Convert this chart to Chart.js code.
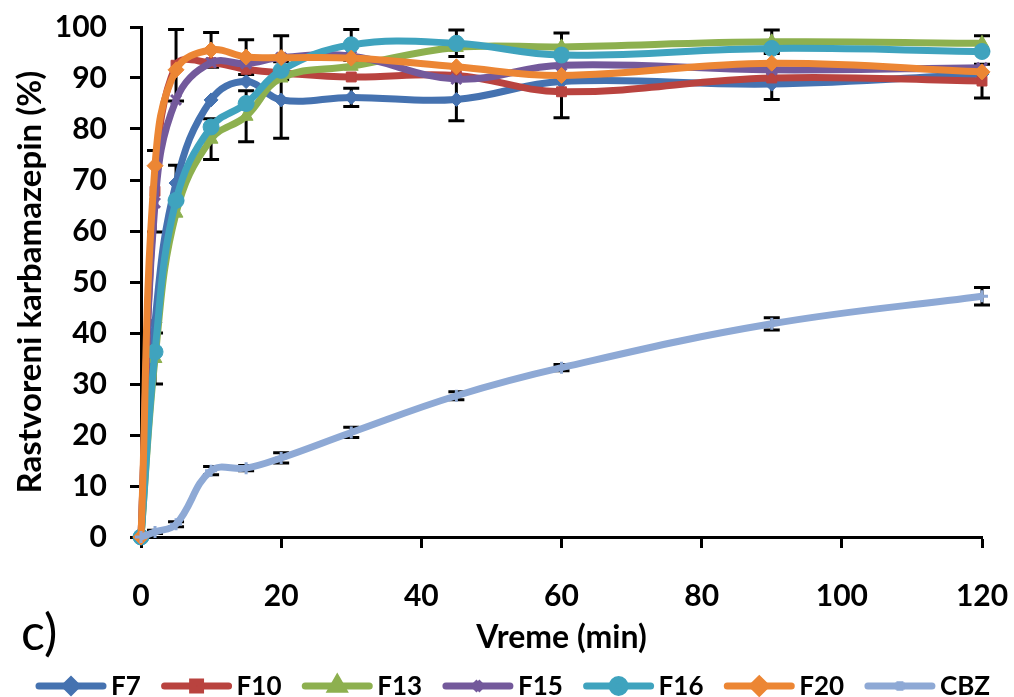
<!DOCTYPE html>
<html>
<head>
<meta charset="utf-8">
<script src="https://cdn.jsdelivr.net/npm/chart.js@4.4.1/dist/chart.umd.min.js"></script>
<style>
  html, body { margin: 0; padding: 0; background: #fff; }
  #wrap { width: 1014px; height: 697px; }
</style>
</head>
<body>
<div id="wrap"><canvas id="dissChart" width="1014" height="697"></canvas></div>
<script>
const FONT = 'Lato, "Open Sans", sans-serif';

// time points (min)
const times = [0, 2, 5, 10, 15, 20, 30, 45, 60, 90, 120];

// dissolved carbamazepine (%)
const f7  = [0, 42, 69.4, 85.7, 89.3, 85.7, 86.2, 85.8, 89.3, 88.8, 90.8];
const f10 = [0, 67.8, 92.5, 93, 91.7, 91, 90.2, 90.5, 87.3, 90, 89.4];
const f13 = [0, 35, 63.5, 78, 82.5, 90, 92.3, 96, 96.1, 97.1, 96.8];
const f15 = [0, 65.5, 85.7, 93, 92.8, 94, 94.3, 89.8, 92.5, 91.6, 92];
const f16 = [0, 36.3, 66, 80.4, 85, 91.5, 96.5, 96.8, 94.5, 95.8, 95.2];
const f20 = [0, 72.8, 91.6, 95.5, 94.1, 94, 93.9, 92.2, 90.5, 92.9, 91.2];
const cbz = [0, 1, 2.5, 13, 13.5, 15.5, 20.5, 27.7, 33.2, 41.8, 47.2];

// error bars (+/-)
const f7Err  = [0, 0, 3.5, 0, 0, 7.5, 1.8, 4.2, 0, 3, 0];
const f10Err = [0, 8, 7, 0, 0, 0, 0, 0, 5.1, 0, 3.3];
const f13Err = [0, 5, 0, 4, 5, 0, 0, 0, 0, 2.3, 1.5];
const f15Err = [0, 0, 0, 0, 0, 4.3, 0, 0, 0, 0, 0];
const f16Err = [0, 0, 0, 0, 0, 0, 3, 2.6, 4.3, 0, 0];
const f20Err = [0, 0, 0, 3.4, 3.4, 0, 0, 0, 0, 0, 0];
const cbzErr = [0, 0.3, 0.5, 0.8, 0.5, 1, 1, 0.8, 0.6, 1.2, 1.7];

const names  = ["F7", "F10", "F13", "F15", "F16", "F20", "CBZ"];
const values = [f7, f10, f13, f15, f16, f20, cbz];
const errs   = [f7Err, f10Err, f13Err, f15Err, f16Err, f20Err, cbzErr];
const colors = ["#4572B0", "#B9433F", "#8DB04F", "#73599B", "#3FA3BE", "#EC8634", "#8EA9D5"];
const styles = ["rectRot", "rect", "triangle", "crossRot", "circle", "rectRot", "cross"];
const radii  = [7, 7, 8, 7, 8, 8, 6];

const datasets = names.map((n, i) => ({
  label: n,
  data: times.map((t, j) => ({ x: t, y: values[i][j] })),
  errors: errs[i],
  borderColor: colors[i],
  backgroundColor: colors[i],
  borderWidth: 7,
  tension: 0.4,
  pointStyle: styles[i],
  pointRadius: radii[i],
  pointBorderWidth: (styles[i] === "crossRot" || styles[i] === "cross") ? 3 : 1,
  pointBackgroundColor: colors[i],
  pointBorderColor: colors[i],
  clip: false,
  order: names.length - i
}));

const errorBars = {
  id: "errorBars",
  beforeDatasetsDraw(chart) {
    const { ctx, scales: { x, y } } = chart;
    ctx.save();
    ctx.strokeStyle = "#000";
    ctx.lineWidth = 3;
    chart.data.datasets.forEach(ds => {
      ds.errors.forEach((e, j) => {
        if (!e) return;
        const px = x.getPixelForValue(ds.data[j].x);
        const hi = y.getPixelForValue(ds.data[j].y + e);
        const lo = y.getPixelForValue(ds.data[j].y - e);
        ctx.beginPath();
        ctx.moveTo(px, hi); ctx.lineTo(px, lo);
        ctx.moveTo(px - 8, hi); ctx.lineTo(px + 8, hi);
        ctx.moveTo(px - 8, lo); ctx.lineTo(px + 8, lo);
        ctx.stroke();
      });
    });
    ctx.restore();
  }
};

const bottomLegend = {
  id: "bottomLegend",
  afterDraw(chart) {
    const ctx = chart.ctx;
    ctx.save();
    // panel label
    ctx.fillStyle = "#000";
    ctx.font = "50px " + FONT;
    ctx.textBaseline = "alphabetic";
    ctx.fillText("c)", 21, 650);

    ctx.font = "bold 26px " + FONT;
    ctx.textBaseline = "middle";
    const dsets = chart.data.datasets;
    let used = 0;
    dsets.forEach(ds => { used += 75 + ctx.measureText(ds.label).width; });
    const gap = (990 - 36 - used) / (dsets.length - 1);
    let x = 36;
    const yc = 686;
    dsets.forEach(ds => {
      ctx.strokeStyle = ds.borderColor;
      ctx.lineWidth = 7;
      ctx.lineCap = "round";
      ctx.beginPath();
      ctx.moveTo(x + 3, yc); ctx.lineTo(x + 67, yc);
      ctx.stroke();
      ctx.lineCap = "butt";
      ctx.fillStyle = ds.pointBackgroundColor;
      ctx.strokeStyle = ds.pointBorderColor;
      if (Chart.helpers && Chart.helpers.drawPoint) {
        Chart.helpers.drawPoint(ctx, {
          pointStyle: ds.pointStyle, rotation: 0,
          radius: ds.pointRadius * 0.8, borderWidth: ds.pointBorderWidth
        }, x + 35, yc);
      }
      ctx.fillStyle = "#000";
      ctx.fillText(ds.label, x + 75, yc + 1);
      x += 75 + ctx.measureText(ds.label).width + gap;
    });
    ctx.restore();
  }
};

new Chart(document.getElementById("dissChart"), {
  type: "line",
  data: { datasets },
  options: {
    responsive: false,
    animation: false,
    devicePixelRatio: 1,
    layout: { padding: { top: 27, right: 32, bottom: 40, left: 0 } },
    plugins: {
      legend: { display: false },
      tooltip: { enabled: false }
    },
    scales: {
      x: {
        type: "linear",
        min: 0, max: 120,
        ticks: { stepSize: 20, color: "#000", padding: 30, maxRotation: 0,
                 font: { family: FONT, size: 30, weight: "bold" } },
        grid: { display: true, drawOnChartArea: false, drawTicks: true,
                tickLength: 11, tickWidth: 3, tickColor: "#000" },
        border: { display: true, color: "#000", width: 3 },
        title: { display: true, text: "Vreme (min)", color: "#000",
                 font: { family: FONT, size: 32, weight: "bold" },
                 padding: { top: 0, bottom: 0 } },
        afterFit(s) { s.height = 120; s.paddingLeft = 0; s.paddingRight = 0; }
      },
      y: {
        min: 0, max: 100,
        ticks: { stepSize: 10, color: "#000", padding: 23,
                 font: { family: FONT, size: 30, weight: "bold" } },
        grid: { display: true, drawOnChartArea: false, drawTicks: true,
                tickLength: 11, tickWidth: 3, tickColor: "#000" },
        border: { display: true, color: "#000", width: 3 },
        title: { display: true, text: "Rastvoreni karbamazepin (%)", color: "#000",
                 font: { family: FONT, size: 33, weight: "bold" },
                 padding: { top: 11, bottom: 0 } },
        afterFit(s) { s.width = 141; s.paddingTop = 0; s.paddingBottom = 0; }
      }
    }
  },
  plugins: [errorBars, bottomLegend]
});
</script>
</body>
</html>
